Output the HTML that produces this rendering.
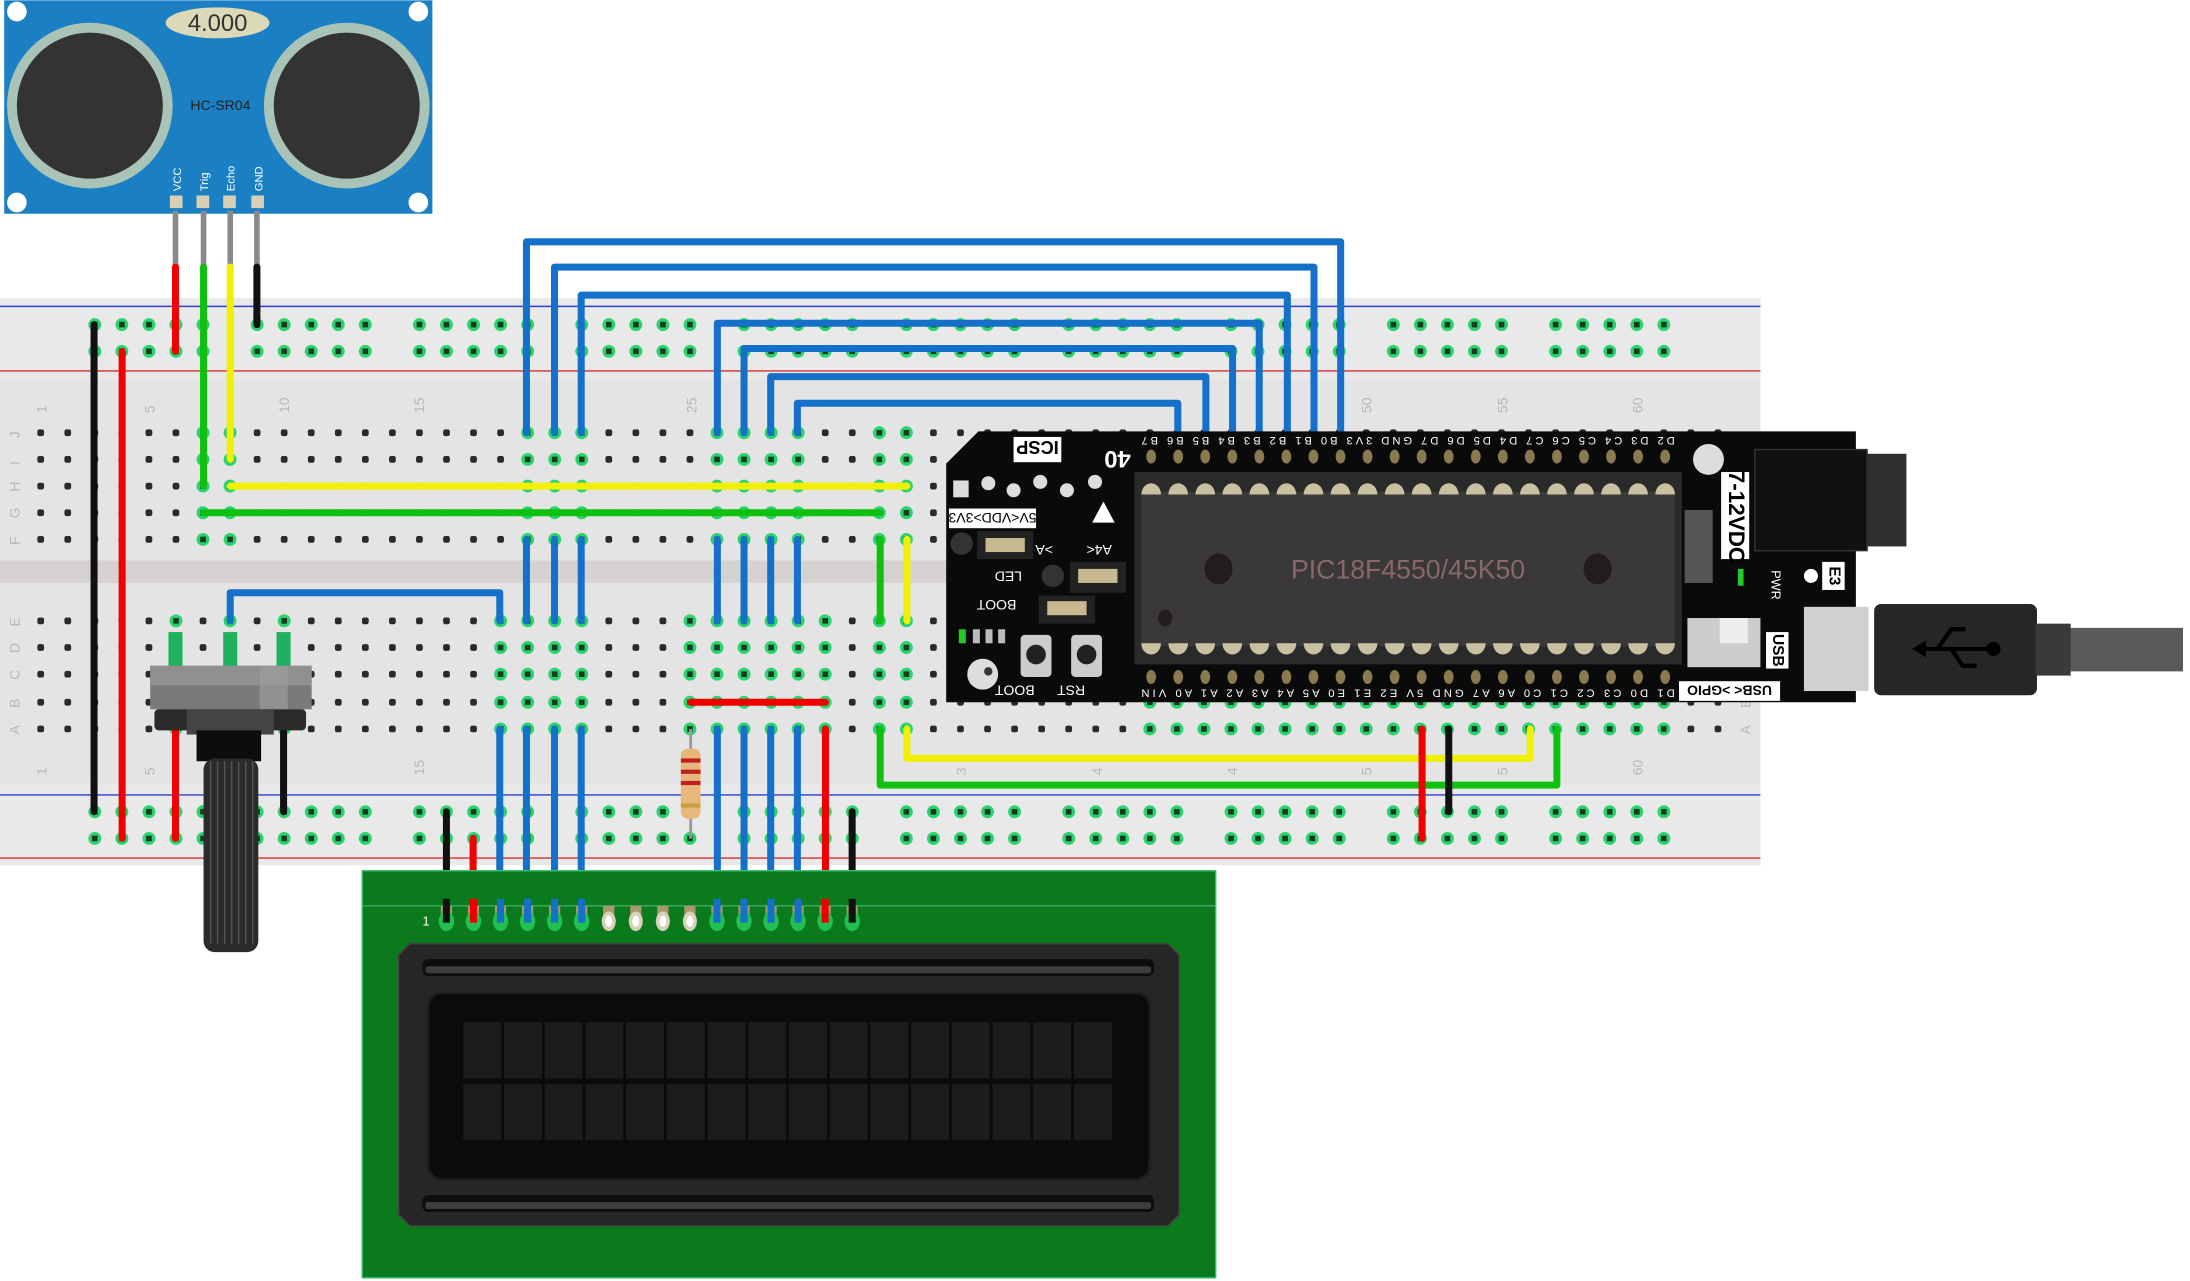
<!DOCTYPE html>
<html><head><meta charset="utf-8"><style>
html,body{margin:0;padding:0;background:#fff;width:2190px;height:1281px;overflow:hidden}
svg{display:block}
text{font-family:"Liberation Sans",sans-serif}
</style></head><body>
<svg id="s" width="2190" height="1281" viewBox="0 0 1560 912" xmlns="http://www.w3.org/2000/svg">
<!-- breadboard -->
<rect x="0" y="212" width="1254" height="404" fill="#e4e4e4"/>
<rect x="0" y="212" width="1254" height="58" fill="#e9e9e9"/>
<rect x="0" y="558" width="1254" height="58" fill="#e9e9e9"/>
<rect x="0" y="399" width="1254" height="16" fill="#d6d2d2"/>
<line x1="0" y1="218" x2="1254" y2="218" stroke="#2a3fcf" stroke-width="1"/>
<line x1="0" y1="264" x2="1254" y2="264" stroke="#d63030" stroke-width="1"/>
<line x1="0" y1="566" x2="1254" y2="566" stroke="#2a3fcf" stroke-width="1"/>
<line x1="0" y1="611" x2="1254" y2="611" stroke="#d63030" stroke-width="1"/>
<g fill="#b8b8b8" font-size="10">
<text transform="translate(33,294) rotate(-90)">1</text>
<text transform="translate(110,294) rotate(-90)">5</text>
<text transform="translate(206,294) rotate(-90)">10</text>
<text transform="translate(302,294) rotate(-90)">15</text>
<text transform="translate(496,294) rotate(-90)">25</text>
<text transform="translate(977,294) rotate(-90)">50</text>
<text transform="translate(1074,294) rotate(-90)">55</text>
<text transform="translate(1170,294) rotate(-90)">60</text>
<text transform="translate(33,552) rotate(-90)">1</text>
<text transform="translate(110,552) rotate(-90)">5</text>
<text transform="translate(302,552) rotate(-90)">15</text>
<text transform="translate(1170,552) rotate(-90)">60</text>
<text transform="translate(688,552) rotate(-90)">3</text>
<text transform="translate(785,552) rotate(-90)">4</text>
<text transform="translate(881,552) rotate(-90)">4</text>
<text transform="translate(977,552) rotate(-90)">5</text>
<text transform="translate(1074,552) rotate(-90)">5</text>
<text transform="translate(14,312) rotate(-90)">J</text>
<text transform="translate(14,331) rotate(-90)">I</text>
<text transform="translate(14,350) rotate(-90)">H</text>
<text transform="translate(14,369) rotate(-90)">G</text>
<text transform="translate(14,388) rotate(-90)">F</text>
<text transform="translate(14,446) rotate(-90)">E</text>
<text transform="translate(14,465) rotate(-90)">D</text>
<text transform="translate(14,484) rotate(-90)">C</text>
<text transform="translate(14,504) rotate(-90)">B</text>
<text transform="translate(14,523) rotate(-90)">A</text>
<text transform="translate(1247,523) rotate(-90)">A</text>
<text transform="translate(1247,504) rotate(-90)">B</text>
</g>
<g id="holes"></g>

<!-- HC-SR04 -->
<rect x="3" y="0" width="305" height="152" fill="#1b7fc3"/>
<g fill="#fff"><circle cx="12" cy="8" r="7"/><circle cx="298" cy="8" r="7"/><circle cx="12" cy="144" r="7"/><circle cx="298" cy="144" r="7"/></g>
<circle cx="64" cy="75" r="59" fill="#a9c4b6"/><circle cx="64" cy="75" r="52" fill="#333"/>
<circle cx="247" cy="75" r="59" fill="#a9c4b6"/><circle cx="247" cy="75" r="52" fill="#333"/>
<ellipse cx="155" cy="16" rx="37" ry="11" fill="#dcd9b8"/>
<text x="155" y="22" font-family="Liberation Mono" font-size="17" text-anchor="middle" fill="#333">4.000</text>
<text x="157" y="78" font-family="Liberation Mono" font-size="10" text-anchor="middle" fill="#222">HC-SR04</text>
<g font-family="Liberation Mono" font-size="8" fill="#fff">
<text transform="translate(129,136) rotate(-90)">VCC</text>
<text transform="translate(148,136) rotate(-90)">Trig</text>
<text transform="translate(167,136) rotate(-90)">Echo</text>
<text transform="translate(187,136) rotate(-90)">GND</text>
</g>
<g fill="#d8d0b4"><rect x="121" y="139" width="9" height="9"/><rect x="140" y="139" width="9" height="9"/><rect x="159" y="139" width="9" height="9"/><rect x="179" y="139" width="9" height="9"/></g>
<g stroke="#8a8a8a" stroke-width="4"><line x1="125" y1="150" x2="125" y2="190"/><line x1="145" y1="150" x2="145" y2="190"/><line x1="164" y1="150" x2="164" y2="190"/><line x1="183" y1="150" x2="183" y2="190"/></g>

<!-- wires -->
<g fill="none" stroke-width="5" stroke-linecap="round" stroke-linejoin="round">
<g stroke="#1470c8">
<polyline points="375,308 375,172 955,172 955,308"/>
<polyline points="395,308 395,190 936,190 936,308"/>
<polyline points="414,308 414,210 917,210 917,308"/>
<polyline points="511,308 511,230 897,230 897,308"/>
<polyline points="530,308 530,248 878,248 878,308"/>
<polyline points="549,308 549,268 859,268 859,308"/>
<polyline points="568,308 568,287 839,287 839,308"/>
<line x1="375" y1="384" x2="375" y2="442"/><line x1="395" y1="384" x2="395" y2="442"/><line x1="414" y1="384" x2="414" y2="442"/>
<line x1="511" y1="384" x2="511" y2="442"/><line x1="530" y1="384" x2="530" y2="442"/><line x1="549" y1="384" x2="549" y2="442"/><line x1="568" y1="384" x2="568" y2="442"/>
<polyline points="164,442 164,422 356,422 356,442"/>
<line x1="356" y1="519" x2="356" y2="655"/><line x1="375" y1="519" x2="375" y2="655"/><line x1="395" y1="519" x2="395" y2="655"/><line x1="414" y1="519" x2="414" y2="655"/>
<line x1="511" y1="519" x2="511" y2="655"/><line x1="530" y1="519" x2="530" y2="655"/><line x1="549" y1="519" x2="549" y2="655"/><line x1="568" y1="519" x2="568" y2="655"/>
</g>
<g stroke="#f0f000"><polyline points="164,190 164,327"/><polyline points="164,346 646,346"/><line x1="646" y1="384" x2="646" y2="442"/><polyline points="646,519 646,540 1090,540 1090,519"/></g>
<g stroke="#10c010"><polyline points="145,190 145,346"/><polyline points="145,365 627,365"/><line x1="627" y1="384" x2="627" y2="442"/><polyline points="627,519 627,559 1109,559 1109,519"/></g>
<g stroke="#f00000"><line x1="125" y1="190" x2="125" y2="250"/><line x1="87" y1="250" x2="87" y2="597"/><line x1="125" y1="519" x2="125" y2="597"/><line x1="492" y1="500" x2="588" y2="500"/><line x1="588" y1="519" x2="588" y2="655"/><line x1="337" y1="597" x2="337" y2="655"/><line x1="1013" y1="519" x2="1013" y2="597"/></g>
<g stroke="#111"><line x1="183" y1="190" x2="183" y2="231"/><line x1="67" y1="231" x2="67" y2="578"/><line x1="202" y1="519" x2="202" y2="578"/><line x1="318" y1="578" x2="318" y2="655"/><line x1="607" y1="578" x2="607" y2="655"/><line x1="1032" y1="519" x2="1032" y2="578"/></g>
</g>
<!-- resistor -->
<line x1="492" y1="519" x2="492" y2="597" stroke="#999" stroke-width="2"/>
<rect x="485" y="533" width="14" height="50" rx="5" fill="#e8b77a"/>
<g fill="#c02020"><rect x="485" y="540" width="14" height="3"/><rect x="485" y="548" width="14" height="3"/><rect x="485" y="556" width="14" height="3"/></g><rect x="485" y="572" width="14" height="3" fill="#c8a040"/>

<!-- pot -->
<g fill="#1fb060"><rect x="120" y="450" width="10" height="25"/><rect x="159" y="450" width="10" height="25"/><rect x="197" y="450" width="10" height="25"/></g>
<rect x="107" y="474" width="115" height="31" fill="#7a7a7a"/><rect x="107" y="474" width="115" height="14" fill="#909090"/><rect x="185" y="474" width="20" height="31" fill="#a0a0a0" opacity=".6"/>
<rect x="110" y="505" width="108" height="15" rx="3" fill="#2a2a2a"/><rect x="133" y="505" width="62" height="18" fill="#444"/>
<rect x="140" y="520" width="46" height="22" fill="#0d0d0d"/>
<rect x="145" y="540" width="39" height="138" rx="8" fill="#2b2b2b"/>
<g stroke="#555" stroke-width="1"><line x1="150" y1="542" x2="150" y2="672"/><line x1="155" y1="542" x2="155" y2="672"/><line x1="160" y1="542" x2="160" y2="672"/><line x1="165" y1="542" x2="165" y2="672"/><line x1="170" y1="542" x2="170" y2="672"/><line x1="175" y1="542" x2="175" y2="672"/><line x1="180" y1="542" x2="180" y2="672"/></g>

<!-- LCD -->
<rect x="258" y="620" width="608" height="290" fill="#0b7a1d" stroke="#3cc070" stroke-width="1"/>
<line x1="258" y1="645" x2="866" y2="645" stroke="#4cc080" stroke-width="0.7"/>
<g id="lcdpins"></g>
<text x="301" y="659" font-size="9" fill="#fff">1</text>
<path d="M292,672 H832 L840,680 V865 L832,873 H292 L284,865 V680 Z" fill="#262626" stroke="#444" stroke-width="1"/>
<rect x="301" y="683" width="521" height="12" rx="4" fill="#0e0e0e"/><rect x="303" y="688" width="517" height="5" rx="2" fill="#3d3d3d"/>
<rect x="301" y="851" width="521" height="12" rx="4" fill="#0e0e0e"/><rect x="303" y="856" width="517" height="5" rx="2" fill="#3d3d3d"/>
<rect x="305" y="707" width="514" height="133" rx="10" fill="#0b0b0b" stroke="#1d1d1d" stroke-width="2"/>
<g id="cells"></g>

<!-- PIC board -->
<path d="M697,307 H1322 V500 H674 V330 Z" fill="#0a0a0a"/>
<rect x="808" y="336" width="390" height="137" fill="#2a2a2a"/>
<rect x="813" y="350" width="380" height="110" fill="#3a3838"/>
<ellipse cx="868" cy="405" rx="10" ry="11" fill="#221c1c"/><ellipse cx="1138" cy="405" rx="10" ry="11" fill="#221c1c"/><ellipse cx="830" cy="440" rx="5" ry="6" fill="#221c1c"/>
<text x="1003" y="412" font-size="19" text-anchor="middle" fill="#8a6868" font-family="Liberation Sans Narrow,Liberation Sans">PIC18F4550/45K50</text>
<g id="picpins"></g>
<g fill="#fff" font-size="8" font-family="Liberation Sans Narrow,Liberation Sans" text-anchor="middle">
<g transform="rotate(180 1003 314)">
<text x="1003" y="317" textLength="380" lengthAdjust="spacing">D2 D3 C4 C5 C6 C7 D4 D5 D6 D7 GND 3V3 B0 B1 B2 B3 B4 B5 B6 B7</text>
</g>
<g transform="rotate(180 1003 494)">
<text x="1003" y="497" textLength="380" lengthAdjust="spacing">D1 D0 C3 C2 C1 C0 A6 A7 GND 5V E2 E1 E0 A5 A4 A3 A2 A1 A0 VIN</text>
</g>
</g>
<rect x="722" y="311" width="34" height="18" fill="#fff"/><text x="739" y="326" font-size="13" font-weight="bold" text-anchor="middle" transform="rotate(180 739 320)" fill="#000">ICSP</text>
<text x="796" y="333" font-size="17" font-weight="bold" fill="#fff" text-anchor="middle" transform="rotate(180 796 327)">40</text>
<g fill="#ddd"><rect x="679" y="342" width="11" height="12"/><circle cx="704" cy="344" r="5"/><circle cx="722" cy="349" r="5"/><circle cx="741" cy="343" r="5"/><circle cx="760" cy="349" r="5"/><circle cx="780" cy="343" r="5"/></g>
<path d="M786,357 L794,372 H778 Z" fill="#fff"/>
<rect x="676" y="362" width="62" height="14" fill="#fff"/><text x="707" y="373" font-size="10" text-anchor="middle" transform="rotate(180 707 369)" fill="#000">5V&lt;VDD&gt;3V3</text>
<circle cx="685" cy="387" r="8" fill="#333"/><rect x="696" y="378" width="40" height="20" fill="#222"/><rect x="702" y="383" width="28" height="10" fill="#c8b890"/>
<circle cx="750" cy="410" r="8" fill="#333"/><rect x="762" y="400" width="40" height="22" fill="#222"/><rect x="768" y="405" width="28" height="10" fill="#c8b890"/>
<rect x="740" y="424" width="40" height="20" fill="#222"/><rect x="746" y="428" width="28" height="10" fill="#c8b890"/>
<g fill="#fff" font-size="10"><text x="750" y="396" transform="rotate(180 750 392)">&gt;A</text><text x="792" y="396" transform="rotate(180 792 392)">A4&lt;</text><text x="728" y="415" transform="rotate(180 728 411)">LED</text><text x="724" y="435" transform="rotate(180 724 431)">BOOT</text><text x="737" y="496" transform="rotate(180 737 492)">BOOT</text><text x="773" y="496" transform="rotate(180 773 492)">RST</text></g>
<g fill="#ccc"><rect x="727" y="452" width="22" height="30" rx="3"/><rect x="763" y="452" width="22" height="30" rx="3"/></g>
<circle cx="738" cy="466" r="7" fill="#222"/><circle cx="774" cy="466" r="7" fill="#222"/>
<circle cx="700" cy="480" r="11" fill="#ddd"/><circle cx="704" cy="478" r="3" fill="#333"/>
<rect x="683" y="448" width="5" height="10" fill="#2c2"/><rect x="693" y="448" width="5" height="10" fill="#bbb"/><rect x="702" y="448" width="5" height="10" fill="#bbb"/><rect x="711" y="448" width="5" height="10" fill="#bbb"/>
<circle cx="1217" cy="327" r="11" fill="#ddd"/>
<rect x="1226" y="336" width="20" height="62" fill="#fff"/><text x="1236" y="368" font-size="16" font-weight="bold" text-anchor="middle" transform="rotate(90 1236 368)" dominant-baseline="middle">7-12VDC</text>
<rect x="1200" y="363" width="20" height="52" fill="#555"/>
<rect x="1250" y="320" width="80" height="72" fill="#111" stroke="#333"/><rect x="1330" y="323" width="28" height="66" fill="#2f2f2f"/>
<rect x="1238" y="405" width="4" height="12" fill="#2c2"/><text x="1262" y="406" font-size="9" fill="#fff" transform="rotate(90 1262 406)">PWR</text>
<circle cx="1290" cy="410" r="5" fill="#fff"/><rect x="1298" y="400" width="16" height="20" fill="#fff"/><text x="1306" y="410" font-size="11" font-weight="bold" text-anchor="middle" dominant-baseline="middle" transform="rotate(90 1306 410)">E3</text>
<rect x="1202" y="440" width="52" height="35" fill="#ccc"/><rect x="1225" y="440" width="20" height="18" fill="#eee"/>
<rect x="1258" y="450" width="16" height="26" fill="#fff"/><text x="1266" y="463" font-size="11" font-weight="bold" text-anchor="middle" dominant-baseline="middle" transform="rotate(90 1266 463)">USB</text>
<rect x="1196" y="485" width="72" height="14" fill="#fff"/><text x="1232" y="496" font-size="10" font-weight="bold" text-anchor="middle" transform="rotate(180 1232 492)">USB&lt; &gt;GPIO</text>
<rect x="1285" y="432" width="46" height="60" fill="#d0d0d0"/>
<rect x="1335" y="430" width="116" height="65" rx="5" fill="#262626"/><rect x="1450" y="447" width="105" height="31" fill="#5a5a5a"/><rect x="1450" y="444" width="25" height="37" fill="#3a3a3a"/>
<g stroke="#000" stroke-width="3" fill="none"><line x1="1365" y1="462" x2="1420" y2="462"/><polyline points="1380,462 1390,448 1400,448"/><polyline points="1390,462 1398,474 1408,474"/></g>
<circle cx="1420" cy="462" r="5" fill="#000"/><path d="M1362,462 L1372,456 V468 Z" fill="#000"/>
</svg>
<script>
(function(){
var NS="http://www.w3.org/2000/svg";
function cx(c){return 29+(c-1)*19.27;}
var h="";
function hole(x,y,g){ if(g){h+='<circle cx="'+x+'" cy="'+y+'" r="4.6" fill="#2ad36e"/><rect x="'+(x-2)+'" y="'+(y-2)+'" width="4" height="4" fill="#1a3a22"/>';}
 else {h+='<rect x="'+(x-2.4)+'" y="'+(y-2.4)+'" width="4.8" height="4.8" rx="1.5" fill="#2a2a2a"/>';}}
var rows=[[231,250],[578,597]];
for(var r=0;r<2;r++){for(var g=0;g<10;g++){for(var k=0;k<5;k++){var c=3+g*6+k;hole(cx(c),rows[r][0],true);hole(cx(c),rows[r][1],true);}}}
var top=[7,8,19,20,21,26,27,28,29,32,33];
var bot=[6,8,10,18,19,20,21,25,26,27,28,29,30,32,33];
for(var c=42;c<=61;c++)bot.push(c);
var tr=[308,327,346,365,384], br=[442,461,480,500,519];
for(var c=1;c<=63;c++){var x=cx(c);
 for(var i=0;i<5;i++){hole(x,tr[i],top.indexOf(c)>=0);hole(x,br[i],bot.indexOf(c)>=0);}}
document.getElementById("holes").innerHTML=h;
// lcd pins
var p="";var cols=["#111","#e00","#1470c8","#1470c8","#1470c8","#1470c8","t","t","t","t","#1470c8","#1470c8","#1470c8","#1470c8","#e00","#111"];
for(var i=0;i<16;i++){var x=318+i*19.27;p+='<rect x="'+(x-4)+'" y="645" width="8" height="12" fill="#a89870"/>';
 if(cols[i]=="t"){p+='<ellipse cx="'+x+'" cy="656" rx="5" ry="7" fill="#d8d0b8"/><ellipse cx="'+x+'" cy="656" rx="2.5" ry="4" fill="#fff"/>';}
 else{p+='<ellipse cx="'+x+'" cy="656" rx="5.5" ry="7" fill="#22c050"/><rect x="'+(x-2.5)+'" y="640" width="5" height="17" fill="'+cols[i]+'"/>';}}
document.getElementById("lcdpins").innerHTML=p;
var ce="";for(var r=0;r<2;r++)for(var i=0;i<16;i++){ce+='<rect x="'+(330+i*29)+'" y="'+(728+r*44)+'" width="27" height="40" fill="#1c1c1c"/>';}
document.getElementById("cells").innerHTML=ce;
var pp="";for(var i=0;i<20;i++){var x=820+i*19.27;
 pp+='<ellipse cx="'+x+'" cy="325" rx="3.5" ry="5" fill="#8a7a50"/><ellipse cx="'+x+'" cy="482" rx="3.5" ry="5" fill="#8a7a50"/>';
 pp+='<path d="M'+(x-7)+',352 A7,8 0 0 1 '+(x+7)+',352 Z" fill="#c8c0a0"/><path d="M'+(x-7)+',458 A7,8 0 0 0 '+(x+7)+',458 Z" fill="#c8c0a0"/>';}
document.getElementById("picpins").innerHTML=pp;
})();
</script>
</body></html>
